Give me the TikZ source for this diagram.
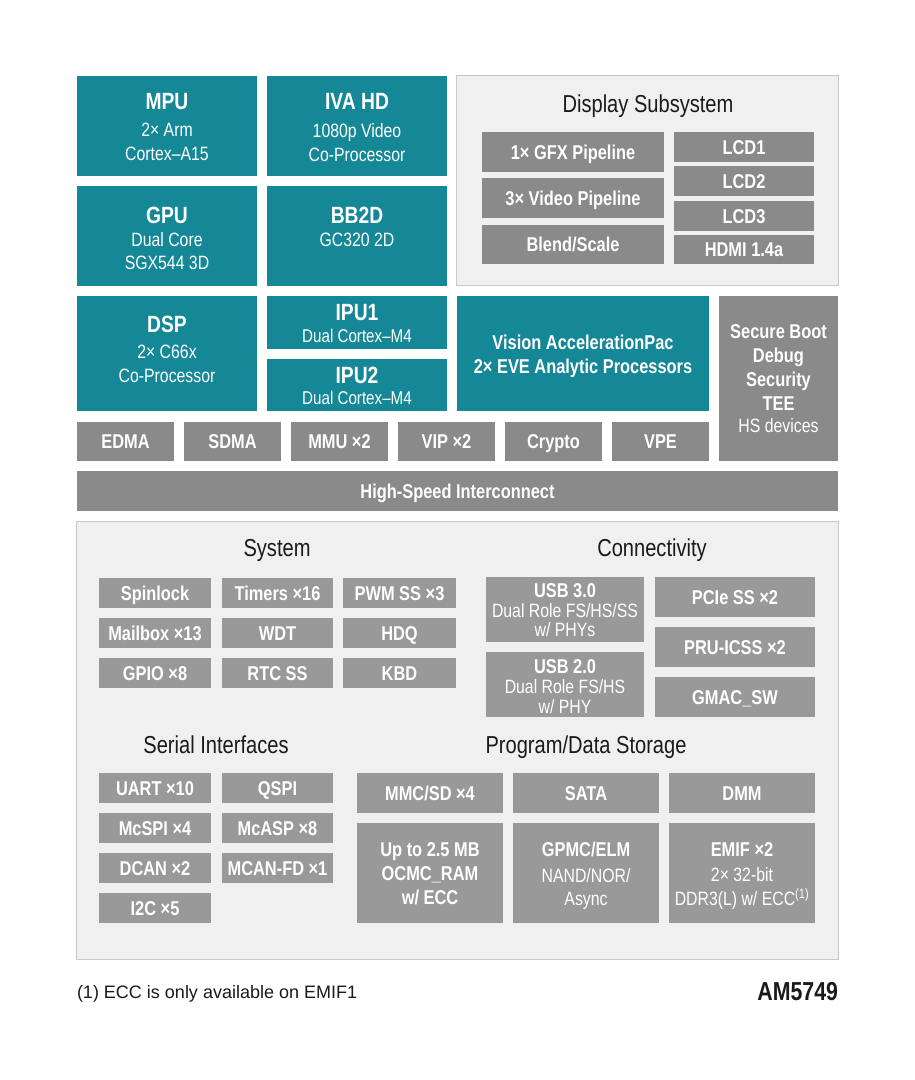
\documentclass[tikz,border=0pt]{standalone}
\usepackage{fontspec}
\newfontfamily\cf{Liberation Sans}[FakeStretch=0.82]
\newfontfamily\af{Liberation Sans}
\definecolor{tealc}{RGB}{20,136,151}
\definecolor{gtop}{RGB}{138,138,138}
\definecolor{glow}{RGB}{153,153,153}
\definecolor{panelf}{RGB}{240,240,240}
\definecolor{paneld}{RGB}{200,200,200}
\definecolor{titc}{RGB}{26,26,26}
\newcommand\fs[1]{\fontsize{#1}{#1}\selectfont}
\newcommand\bx[6]{\node[#6,anchor=north west,minimum width={(#4)-(#2)},minimum height={(#5)-(#3)}] (#1) at (#2,#3) {};}
\newcommand\tx[5]{\node[#4] (#1) at (#2,#3) {#5};}
\begin{document}
\begin{tikzpicture}[x=1pt,y=-1pt,
  every node/.style={inner sep=0pt,outer sep=0pt},
  tealbox/.style={fill=tealc,draw=none},
  gtopbox/.style={fill=gtop,draw=none},
  glowbox/.style={fill=glow,draw=none},
  panel/.style={fill=panelf,draw=paneld,line width=1pt},
  tT/.style={font=\cf\bfseries\fs{23.5},text=white,text height=16.8pt,text depth=0pt},
  tS/.style={font=\cf\fs{19.3},text=white,text height=13.8pt,text depth=0pt},
  tSs/.style={font=\cf\fs{18.5},text=white,text height=13.2pt,text depth=0pt},
  tB/.style={font=\cf\bfseries\fs{20},text=white,text height=14.3pt,text depth=0pt},
  tH/.style={font=\cf\fs{24.5},text=titc,text height=17.5pt,text depth=0pt}]
\useasboundingbox[fill=white] (0,0) rectangle (915,1080);
% ---------- processors ----------
\bx{mpu}{77}{76}{257}{176}{tealbox}
\tx{mpuA}{167}{101}{tT}{MPU}
\tx{mpuB}{167}{130}{tS}{2× Arm}
\tx{mpuC}{167}{154}{tS}{Cortex–A15}
\bx{iva}{267}{76}{447}{176}{tealbox}
\tx{ivaA}{357}{101}{tT}{IVA HD}
\tx{ivaB}{357}{131}{tS}{1080p Video}
\tx{ivaC}{357}{155}{tS}{Co-Processor}
\bx{gpu}{77}{186}{257}{286}{tealbox}
\tx{gpuA}{167}{215}{tT}{GPU}
\tx{gpuB}{167}{240}{tS}{Dual Core}
\tx{gpuC}{167}{263}{tS}{SGX544 3D}
\bx{bb}{267}{186}{447}{286}{tealbox}
\tx{bbA}{357}{215}{tT}{BB2D}
\tx{bbB}{357}{240}{tS}{GC320 2D}
\bx{dsp}{77}{296}{257}{411}{tealbox}
\tx{dspA}{167}{324}{tT}{DSP}
\tx{dspB}{167}{352}{tS}{2× C66x}
\tx{dspC}{167}{376}{tS}{Co-Processor}
\bx{ipua}{267}{296}{447}{349}{tealbox}
\tx{ipuaA}{357}{312}{tT}{IPU1}
\tx{ipuaB}{357}{336}{tSs}{Dual Cortex–M4}
\bx{ipub}{267}{359}{447}{411}{tealbox}
\tx{ipubA}{357}{375}{tT}{IPU2}
\tx{ipubB}{357}{398}{tSs}{Dual Cortex–M4}
\bx{vis}{457}{296}{709}{411}{tealbox}
\tx{visA}{583}{342}{tB}{Vision AccelerationPac}
\tx{visB}{583}{366}{tB}{2× EVE Analytic Processors}
\bx{sec}{719}{296}{838}{461}{gtopbox}
\tx{secA}{778.5}{331}{tB}{Secure Boot}
\tx{secB}{778.5}{355}{tB}{Debug}
\tx{secC}{778.5}{379}{tB}{Security}
\tx{secD}{778.5}{403}{tB}{TEE}
\tx{secE}{778.5}{426}{tS}{HS devices}
% ---------- DMA row ----------
\bx{edma}{77}{422}{174}{461}{gtopbox}
\tx{edmaT}{125.5}{441.5}{tB}{EDMA}
\bx{sdma}{184}{422}{281}{461}{gtopbox}
\tx{sdmaT}{232.5}{441.5}{tB}{SDMA}
\bx{mmu}{291}{422}{388}{461}{gtopbox}
\tx{mmuT}{339.5}{441.5}{tB}{MMU ×2}
\bx{vip}{398}{422}{495}{461}{gtopbox}
\tx{vipT}{446.5}{441.5}{tB}{VIP ×2}
\bx{cry}{505}{422}{602}{461}{gtopbox}
\tx{cryT}{553.5}{441.5}{tB}{Crypto}
\bx{vpe}{612}{422}{709}{461}{gtopbox}
\tx{vpeT}{660.5}{441.5}{tB}{VPE}
\bx{hsi}{77}{471}{838}{511}{gtopbox}
\tx{hsiT}{457.5}{491}{tB}{High-Speed Interconnect}
% ---------- display subsystem ----------
\bx{dss}{456}{75}{838}{285}{panel}
\tx{dssT}{648}{104}{tH}{Display Subsystem}
\bx{gfx}{482}{132}{664}{172}{gtopbox}
\tx{gfxT}{573}{152}{tB}{1× GFX Pipeline}
\bx{vid}{482}{178}{664}{218}{gtopbox}
\tx{vidT}{573}{198}{tB}{3× Video Pipeline}
\bx{bld}{482}{225}{664}{264}{gtopbox}
\tx{bldT}{573}{244.5}{tB}{Blend/Scale}
\bx{lcda}{674}{132}{814}{162}{gtopbox}
\tx{lcdaT}{744}{147}{tB}{LCD1}
\bx{lcdb}{674}{166}{814}{196}{gtopbox}
\tx{lcdbT}{744}{181}{tB}{LCD2}
\bx{lcdc}{674}{201}{814}{231}{gtopbox}
\tx{lcdcT}{744}{216}{tB}{LCD3}
\bx{hdmi}{674}{235}{814}{264}{gtopbox}
\tx{hdmiT}{744}{249.5}{tB}{HDMI 1.4a}
% ---------- lower panel ----------
\bx{low}{76}{521}{838}{959}{panel}
\tx{sysT}{277}{548}{tH}{System}
\bx{spin}{99}{578}{211}{608}{glowbox}
\tx{spinT}{155}{593}{tB}{Spinlock}
\bx{tim}{222}{578}{333}{608}{glowbox}
\tx{timT}{277.5}{593}{tB}{Timers ×16}
\bx{pwm}{343}{578}{456}{608}{glowbox}
\tx{pwmT}{399.5}{593}{tB}{PWM SS ×3}
\bx{mbx}{99}{618}{211}{648}{glowbox}
\tx{mbxT}{155}{633}{tB}{Mailbox ×13}
\bx{wdt}{222}{618}{333}{648}{glowbox}
\tx{wdtT}{277.5}{633}{tB}{WDT}
\bx{hdq}{343}{618}{456}{648}{glowbox}
\tx{hdqT}{399.5}{633}{tB}{HDQ}
\bx{gpio}{99}{658}{211}{688}{glowbox}
\tx{gpioT}{155}{673}{tB}{GPIO ×8}
\bx{rtc}{222}{658}{333}{688}{glowbox}
\tx{rtcT}{277.5}{673}{tB}{RTC SS}
\bx{kbd}{343}{658}{456}{688}{glowbox}
\tx{kbdT}{399.5}{673}{tB}{KBD}
% connectivity
\tx{conT}{652}{548}{tH}{Connectivity}
\bx{usba}{486}{577}{644}{642}{glowbox}
\tx{usbaA}{565}{590}{tB}{USB 3.0}
\tx{usbaB}{565}{611}{tS}{Dual Role FS/HS/SS}
\tx{usbaC}{565}{630}{tS}{w/ PHYs}
\bx{usbb}{486}{652}{644}{717}{glowbox}
\tx{usbbA}{565}{666}{tB}{USB 2.0}
\tx{usbbB}{565}{687}{tS}{Dual Role FS/HS}
\tx{usbbC}{565}{707}{tS}{w/ PHY}
\bx{pcie}{655}{577}{815}{617}{glowbox}
\tx{pcieT}{735}{597}{tB}{PCIe SS ×2}
\bx{pru}{655}{627}{815}{667}{glowbox}
\tx{pruT}{735}{647}{tB}{PRU-ICSS ×2}
\bx{gmac}{655}{677}{815}{717}{glowbox}
\tx{gmacT}{735}{697}{tB}{GMAC\_SW}
% serial
\tx{serT}{216}{745}{tH}{Serial Interfaces}
\bx{uart}{99}{773}{211}{803}{glowbox}
\tx{uartT}{155}{788}{tB}{UART ×10}
\bx{qspi}{222}{773}{333}{803}{glowbox}
\tx{qspiT}{277.5}{788}{tB}{QSPI}
\bx{mcspi}{99}{813}{211}{843}{glowbox}
\tx{mcspiT}{155}{828}{tB}{McSPI ×4}
\bx{mcasp}{222}{813}{333}{843}{glowbox}
\tx{mcaspT}{277.5}{828}{tB}{McASP ×8}
\bx{dcan}{99}{853}{211}{883}{glowbox}
\tx{dcanT}{155}{868}{tB}{DCAN ×2}
\bx{mcan}{222}{853}{333}{883}{glowbox}
\tx{mcanT}{277.5}{868}{tB}{MCAN-FD ×1}
\bx{iic}{99}{893}{211}{923}{glowbox}
\tx{iicT}{155}{908}{tB}{I2C ×5}
% storage
\tx{stoT}{586}{745}{tH}{Program/Data Storage}
\bx{mmc}{357}{773}{503}{813}{glowbox}
\tx{mmcT}{430}{793}{tB}{MMC/SD ×4}
\bx{sata}{513}{773}{659}{813}{glowbox}
\tx{sataT}{586}{793}{tB}{SATA}
\bx{dmm}{669}{773}{815}{813}{glowbox}
\tx{dmmT}{742}{793}{tB}{DMM}
\bx{ocmc}{357}{823}{503}{923}{glowbox}
\tx{ocmcA}{430}{849}{tB}{Up to 2.5 MB}
\tx{ocmcB}{430}{873}{tB}{OCMC\_RAM}
\tx{ocmcC}{430}{897}{tB}{w/ ECC}
\bx{gpmc}{513}{823}{659}{923}{glowbox}
\tx{gpmcA}{586}{849}{tB}{GPMC/ELM}
\tx{gpmcB}{586}{876}{tS}{NAND/NOR/}
\tx{gpmcC}{586}{899}{tS}{Async}
\bx{emif}{669}{823}{815}{923}{glowbox}
\tx{emifA}{742}{849}{tB}{EMIF ×2}
\tx{emifB}{742}{875}{tS}{2× 32-bit}
\tx{emifC}{742}{899}{tS}{DDR3(L) w/ ECC\textsuperscript{(1)}}
% footer
\node[font=\af\fs{18},text=titc,text height=12.9pt,text depth=0pt,anchor=west] (foot) at (77,992) {(1) ECC is only available on EMIF1};
\node[font=\cf\bfseries\fs{26},text=titc,text height=18.6pt,text depth=0pt,anchor=east] (part) at (838,991) {AM5749};
\end{tikzpicture}
\end{document}
